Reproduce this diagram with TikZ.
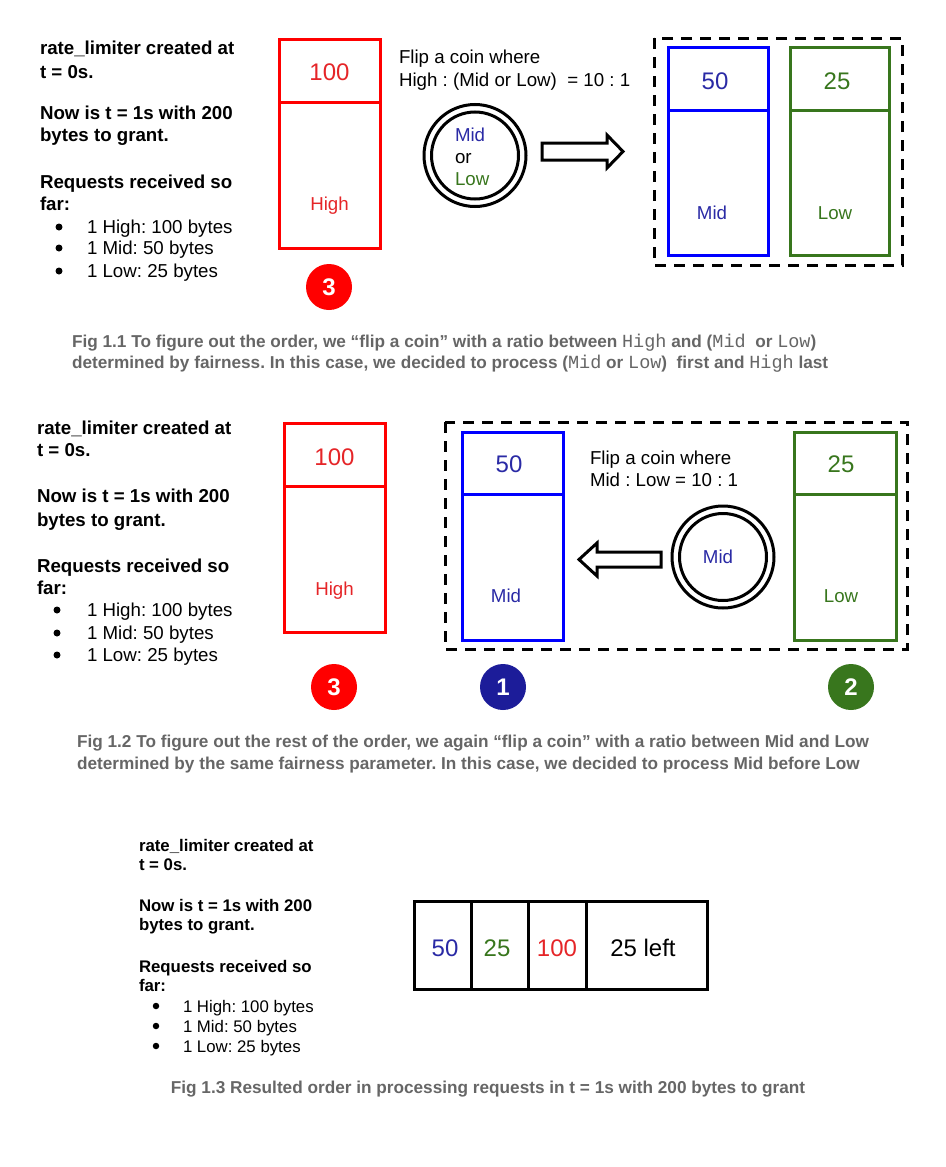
\documentclass[tikz,border=0pt]{standalone}
\usepackage{fontspec}
\setmainfont{Liberation Sans}
\setmonofont{Liberation Mono}
\frenchspacing
\definecolor{rline}{HTML}{FF0000}
\definecolor{rtext}{HTML}{E52528}
\definecolor{bline}{HTML}{0000FF}
\definecolor{btext}{HTML}{2A2AA5}
\definecolor{bfill}{HTML}{1C1C99}
\definecolor{gcol}{HTML}{38761D}
\definecolor{capgray}{HTML}{666666}
\newcommand{\mw}[1]{{\fontsize{18.5}{20}\selectfont\mdseries\ttfamily #1}}
\begin{document}
\begin{tikzpicture}[x=1pt,y=-1pt,
  every node/.style={inner sep=0pt, outer sep=0pt},
  hd/.style={font=\fontsize{18.7}{22}\selectfont\bfseries, anchor=base west},
  bt/.style={font=\fontsize{18.7}{22}\selectfont, anchor=base west},
  hdsm/.style={font=\fontsize{16.8}{19}\selectfont\bfseries, anchor=base west},
  btsm/.style={font=\fontsize{16.8}{19}\selectfont, anchor=base west},
  big/.style={font=\fontsize{24}{28}\selectfont, anchor=base},
  mid/.style={font=\fontsize{18.7}{22}\selectfont, anchor=base},
  captxt/.style={font=\fontsize{17.2}{20}\selectfont\bfseries, text=capgray, anchor=base west},
  badge/.style={circle, minimum size=46pt, text=white, font=\fontsize{24}{28}\selectfont\bfseries},
  boxline/.style={line width=3pt},
  dbox/.style={line width=3pt, dash pattern=on 11pt off 8pt},
  blockarrow/.style={line width=3pt, fill=white, line join=miter},
  coin/.style={line width=3pt},
  dot/.style={circle, fill=black, minimum size=7pt}
]
\useasboundingbox (0,0) rectangle (945,1167);

% ================= Panel 1 =================
\node[hd] (p1a) at (40,54.7) {rate\_limiter created at};
\node[hd] (p1b) at (40,78.7) {t = 0s.};
\node[hd] (p1c) at (40,119.7) {Now is t = 1s with 200};
\node[hd] (p1d) at (40,141.7) {bytes to grant.};
\node[hd] (p1e) at (40,188.7) {Requests received so};
\node[hd] (p1f) at (40,210.7) {far:};
\node[dot] (p1d1) at (59,227) {};
\node[dot] (p1d2) at (59,248) {};
\node[dot] (p1d3) at (59,271) {};
\node[bt] (p1g) at (87,233.7) {1 High: 100 bytes};
\node[bt] (p1h) at (87,254.7) {1 Mid: 50 bytes};
\node[bt] (p1i) at (87,277.7) {1 Low: 25 bytes};

% red box
\draw[boxline, rline] (279,39) rectangle (380,248);
\draw[boxline, rline] (279,102) -- (380,102);
\node[big, text=rtext] (p1hn) at (329.5,80.6) {100};
\node[mid, text=rtext] (p1hl) at (329.5,210.4) {High};
\node[badge, fill=rline] (p1b3) at (329,287) {3};

% flip text
\node[bt] (p1f1) at (399,63.7) {Flip a coin where};
\node[bt] (p1f2) at (399,86.7) {High : (Mid or Low)\ \ = 10 : 1};

% coin
\coordinate (c1) at (475,155.5);
\draw[coin] (c1) circle[radius=51pt];
\draw[coin] (c1) circle[radius=43.5pt];
\node[bt, text=btext] (c1m) at (455,141.5) {Mid};
\node[bt] (c1o) at (455,163.5) {or};
\node[bt, text=gcol] (c1l) at (455,185.5) {Low};

% arrow right
\draw[blockarrow] (542,143) -- (607,143) -- (607,135) -- (623,151.5) -- (607,168) -- (607,160) -- (542,160) -- cycle;

% dashed group
\draw[dbox] (654,38) rectangle (902,265);
\draw[boxline, bline] (668,47) rectangle (768,255);
\draw[boxline, bline] (668,110) -- (768,110);
\node[big, text=btext] (p1mn) at (715,89.6) {50};
\node[mid, text=btext] (p1ml) at (712,219.5) {Mid};
\draw[boxline, gcol] (790,47) rectangle (889,255);
\draw[boxline, gcol] (790,110) -- (889,110);
\node[big, text=gcol] (p1ln) at (837,89.6) {25};
\node[mid, text=gcol] (p1ll) at (835,219.5) {Low};

% caption 1
\node[captxt] (cap1a) at (72,347) {Fig 1.1 To figure out the order, we “flip a coin” with a ratio between \mw{High} and (\mw{Mid}\ \ or \mw{Low})};
\node[captxt] (cap1b) at (72,368) {determined by fairness. In this case, we decided to process (\mw{Mid} or \mw{Low})\ \ first and \mw{High} last};

% ================= Panel 2 =================
\node[hd] (p2a) at (37,434.7) {rate\_limiter created at};
\node[hd] (p2b) at (37,456.7) {t = 0s.};
\node[hd] (p2c) at (37,502.7) {Now is t = 1s with 200};
\node[hd] (p2d) at (37,526.7) {bytes to grant.};
\node[hd] (p2e) at (37,572.7) {Requests received so};
\node[hd] (p2f) at (37,594.7) {far:};
\node[dot] (p2d1) at (57,610) {};
\node[dot] (p2d2) at (57,633) {};
\node[dot] (p2d3) at (57,655) {};
\node[bt] (p2g) at (87,616.7) {1 High: 100 bytes};
\node[bt] (p2h) at (87,639.7) {1 Mid: 50 bytes};
\node[bt] (p2i) at (87,661.7) {1 Low: 25 bytes};

\draw[boxline, rline] (284,423) rectangle (385,632);
\draw[boxline, rline] (284,486) -- (385,486);
\node[big, text=rtext] (p2hn) at (334.5,465.6) {100};
\node[mid, text=rtext] (p2hl) at (334.5,595.4) {High};
\node[badge, fill=rline] (p2b3) at (334,687) {3};

\draw[dbox] (445,422) rectangle (907,649);
\draw[boxline, bline] (462,432) rectangle (563,640);
\draw[boxline, bline] (462,494) -- (563,494);
\node[big, text=btext] (p2mn) at (509,472.6) {50};
\node[mid, text=btext] (p2ml) at (506,602.5) {Mid};
\node[badge, fill=bfill] (p2b1) at (503,687) {1};

\node[bt] (p2f1) at (590,464.7) {Flip a coin where};
\node[bt] (p2f2) at (590,486.7) {Mid : Low = 10 : 1};

\coordinate (c2) at (723,557);
\draw[coin] (c2) circle[radius=51pt];
\draw[coin] (c2) circle[radius=43.5pt];
\node[mid, text=btext] (c2m) at (718,563.5) {Mid};

\draw[blockarrow] (661,552) -- (597,552) -- (597,543) -- (579,559.5) -- (597,576) -- (597,567) -- (661,567) -- cycle;

\draw[boxline, gcol] (794,432) rectangle (896,640);
\draw[boxline, gcol] (794,494) -- (896,494);
\node[big, text=gcol] (p2ln) at (841,472.6) {25};
\node[mid, text=gcol] (p2ll) at (841,602.5) {Low};
\node[badge, fill=gcol] (p2b2) at (851,687) {2};

\node[captxt] (cap2a) at (77,747) {Fig 1.2 To figure out the rest of the order, we again “flip a coin” with a ratio between Mid and Low};
\node[captxt] (cap2b) at (77,769) {determined by the same fairness parameter. In this case, we decided to process Mid before Low};

% ================= Panel 3 =================
\node[hdsm] (p3a) at (139,851) {rate\_limiter created at};
\node[hdsm] (p3b) at (139,870) {t = 0s.};
\node[hdsm] (p3c) at (139,911) {Now is t = 1s with 200};
\node[hdsm] (p3d) at (139,930) {bytes to grant.};
\node[hdsm] (p3e) at (139,972) {Requests received so};
\node[hdsm] (p3f) at (139,991) {far:};
\node[dot, minimum size=6.5pt] (p3d1) at (156,1006) {};
\node[dot, minimum size=6.5pt] (p3d2) at (156,1026) {};
\node[dot, minimum size=6.5pt] (p3d3) at (156,1046) {};
\node[btsm] (p3g) at (183,1012) {1 High: 100 bytes};
\node[btsm] (p3h) at (183,1032) {1 Mid: 50 bytes};
\node[btsm] (p3i) at (183,1052) {1 Low: 25 bytes};

\draw[boxline, black] (414,901) rectangle (707,989);
\draw[boxline] (471,901) -- (471,989);
\draw[boxline] (528,901) -- (528,989);
\draw[boxline] (586,901) -- (586,989);
\node[big, text=btext] (r50) at (445,956.6) {50};
\node[big, text=gcol] (r25) at (497,956.6) {25};
\node[big, text=rtext] (r100) at (557,956.6) {100};
\node[big] (rleft) at (643,956.6) {25 left};

\node[captxt, anchor=base] (cap3) at (488,1093) {Fig 1.3 Resulted order in processing requests in t = 1s with 200 bytes to grant};
\end{tikzpicture}
\end{document}
